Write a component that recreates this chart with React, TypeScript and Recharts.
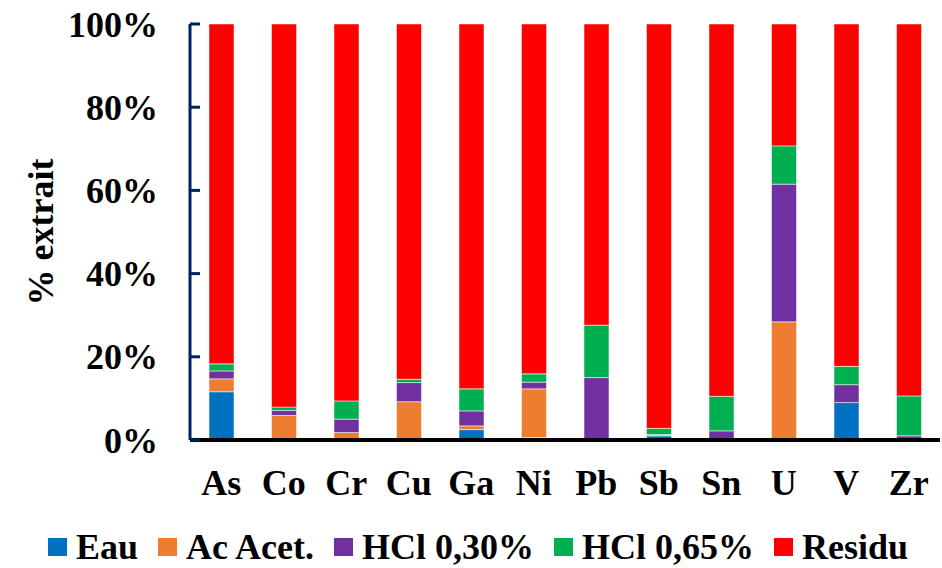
import React from 'react';
import { BarChart, Bar, XAxis, YAxis, Legend } from 'recharts';

const elements = ['As', 'Co', 'Cr', 'Cu', 'Ga', 'Ni', 'Pb', 'Sb', 'Sn', 'U', 'V', 'Zr'];
const eau = [11.6, 0, 0, 0, 2.5, 0.6, 0, 1.0, 0, 0, 9.0, 0];
const acAcet = [3.1, 5.9, 1.8, 9.2, 0.9, 11.7, 0, 0.2, 0.3, 28.4, 0, 0];
const hcl030 = [1.9, 1.2, 3.2, 4.6, 3.6, 1.6, 15.0, 0.1, 1.9, 33.1, 4.3, 1.0];
const hcl065 = [1.7, 0.8, 4.4, 0.8, 5.3, 2.0, 12.6, 1.5, 8.3, 9.2, 4.4, 9.6];
const residu = [81.7, 92.1, 90.6, 85.4, 87.7, 84.1, 72.4, 97.2, 89.5, 29.3, 82.3, 89.4];
const yTicks = [0, 20, 40, 60, 80, 100];

const series = [
  { key: 'eau', name: 'Eau', color: '#0070C0', values: eau },
  { key: 'ac', name: 'Ac Acet.', color: '#ED7D31', values: acAcet },
  { key: 'h30', name: 'HCl 0,30%', color: '#7030A0', values: hcl030 },
  { key: 'h65', name: 'HCl 0,65%', color: '#00B050', values: hcl065 },
  { key: 'res', name: 'Residu', color: '#FF0000', values: residu },
];

const data = elements.map((el, i) => {
  const row: any = { name: el };
  series.forEach((s) => {
    row[s.key] = s.values[i];
  });
  return row;
});

const FONT = '"Liberation Serif", "Times New Roman", serif';
const NAVY = '#002060';

const YTick = (props: any) => {
  const { x, y, payload } = props;
  return (
    <g>
      <line x1={x + 32} x2={x + 42} y1={y} y2={y} stroke={NAVY} strokeWidth={3} />
      <text
        x={x}
        y={y}
        dy="0.35em"
        textAnchor="end"
        fontFamily={FONT}
        fontWeight="bold"
        fontSize={36}
        fill="#000"
      >
        {payload.value}%
      </text>
    </g>
  );
};

const LegendContent = () => (
  <div
    style={{
      display: 'flex',
      alignItems: 'center',
      fontFamily: FONT,
      fontWeight: 'bold',
      fontSize: 36,
      lineHeight: '42px',
      height: 42,
      whiteSpace: 'nowrap',
      color: '#000',
    }}
  >
    {series.map((s) => (
      <div key={s.key} style={{ display: 'flex', alignItems: 'center', marginRight: 20, flex: 'none' }}>
        <div style={{ width: 19, height: 18, background: s.color, marginRight: 9, flex: 'none' }} />
        <span style={{ display: 'inline-block' }}>{s.name}</span>
      </div>
    ))}
  </div>
);

export default function App() {
  return (
    <div style={{ position: 'absolute', left: 0, top: 0, width: 942, height: 568, background: '#fff' }}>
      <BarChart
        width={942}
        height={568}
        data={data}
        margin={{ top: 24, right: 2, left: 0, bottom: 68 }}
        barSize={25}
      >
        <XAxis
          dataKey="name"
          height={60}
          axisLine={{ stroke: '#000', strokeWidth: 4 }}
          tickLine={false}
          tickSize={0}
          tickMargin={29}
          interval={0}
          tick={{ fontFamily: FONT, fontWeight: 'bold', fontSize: 36, fill: '#000' }}
        />
        <YAxis
          width={190}
          domain={[0, 100]}
          ticks={yTicks}
          interval={0}
          axisLine={{ stroke: NAVY, strokeWidth: 3 }}
          tickLine={false}
          tickSize={0}
          tickMargin={32}
          tick={<YTick />}
          label={{
            value: '% extrait',
            content: (p: any) => {
              const vb = p.viewBox || { x: 0, y: 24, width: 190, height: 416 };
              const cx = vb.x + 53;
              const cy = vb.y + vb.height / 2;
              return (
                <text
                  x={cx}
                  y={cy}
                  transform={`rotate(-90 ${cx} ${cy})`}
                  textAnchor="middle"
                  fontFamily={FONT}
                  fontWeight="bold"
                  fontSize={36}
                  fill="#000"
                >
                  % extrait
                </text>
              );
            },
          }}
        />
        <Legend
          layout="horizontal"
          verticalAlign="middle"
          align="center"
          content={<LegendContent />}
          wrapperStyle={{ position: 'absolute', top: 526, left: 48, width: 890, height: 42 }}
        />
        {series.map((s) => (
          <Bar
            key={s.key}
            dataKey={s.key}
            name={s.name}
            stackId="a"
            fill={s.color}
            stroke="#ffffff"
            strokeOpacity={0.5}
            strokeWidth={1}
            isAnimationActive={false}
          />
        ))}
      </BarChart>
    </div>
  );
}
